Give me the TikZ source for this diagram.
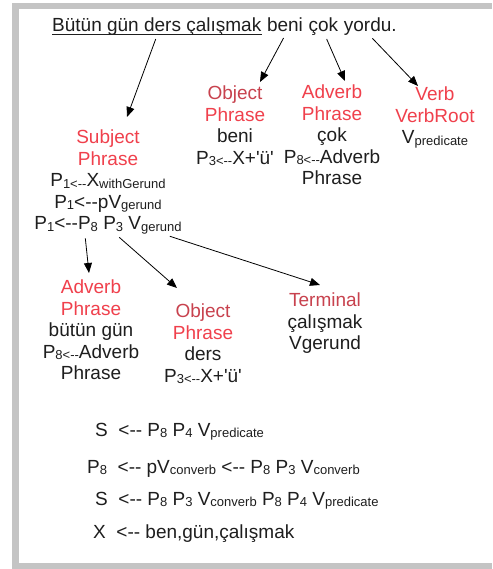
\documentclass[tikz,border=0pt]{standalone}
\usepackage{fontspec}
\newfontfamily\diagfont{Liberation Sans}
\usepackage{xcolor}
\usetikzlibrary{arrows.meta,positioning}
\definecolor{Ink}{HTML}{1E1E1E}
\definecolor{HeadRed}{HTML}{F0404C}
\definecolor{HeadDark}{HTML}{C8424E}
\definecolor{Frame}{HTML}{C4C4C4}
\newcommand{\mainsize}{\diagfont\fontsize{19}{21.5}\selectfont}
\newcommand{\lowsub}[1]{\raisebox{-1.5pt}{\fontsize{13}{13}\selectfont #1}}
\newcommand{\head}[1]{\textcolor{HeadRed}{#1}}
\newcommand{\headdk}[1]{\textcolor{HeadDark}{#1}}
\newcommand{\larr}{<-{}-}

\begin{document}
\begin{tikzpicture}[x=1pt, y=-1pt,
  word/.style={inner sep=0pt, text=Ink, font=\mainsize},
  phrase/.style={align=center, inner sep=1pt, text=Ink, font=\mainsize, anchor=north},
  rulerow/.style={inner sep=0pt, anchor=base west, text=Ink, font=\mainsize},
  link/.style={-{Triangle[length=10pt,width=8pt]}, line width=0.8pt, draw=black, shorten <=3pt}
]
  % frame
  \useasboundingbox (0,0) rectangle (492,569);
  \fill[white] (0,0) rectangle (492,569);
  \fill[Frame] (12,3) rectangle (492,569);
  \fill[white] (19,9) rectangle (492,563);

  % sentence
  \node[word, anchor=base west] (w1) at (52,32) {Bütün gün ders çalışmak};
  \node[word, base right=5.3pt of w1] (wbeni) {beni};
  \node[word, base right=5.3pt of wbeni] (wcok) {çok};
  \node[word, base right=5.3pt of wcok] (wyordu) {yordu.};
  \draw[Ink, line width=0.8pt] ([yshift=-2.5pt]w1.base west) -- ([yshift=-2.5pt]w1.base east);

  % phrases
  \node[phrase] (subj) at (108,129) {\head{Subject}\\ \head{Phrase}\\
    P\lowsub{1\larr}X\lowsub{withGerund}\\
    P\lowsub{1}\larr pV\lowsub{gerund}\\
    P\lowsub{1}\larr P\lowsub{8} P\lowsub{3} V\lowsub{gerund}};
  \node[phrase] (obj) at (235,85) {\headdk{Object}\\ \head{Phrase}\\ beni\\
    P\lowsub{3\larr}X+'ü'};
  \node[phrase] (adv) at (332,84) {\head{Adverb}\\ \head{Phrase}\\ çok\\
    P\lowsub{8\larr}Adverb\\ Phrase};
  \node[phrase] (verb) at (435,86) {\head{Verb}\\ \head{VerbRoot}\\ V\lowsub{predicate}};
  \node[phrase] (advlow) at (91,279) {\head{Adverb}\\ \head{Phrase}\\ bütün gün\\
    P\lowsub{8\larr}Adverb\\ Phrase};
  \node[phrase] (objlow) at (203,303) {\headdk{Object}\\ \head{Phrase}\\ ders\\
    P\lowsub{3\larr}X+'ü'};
  \node[phrase] (term) at (325,292) {\headdk{Terminal}\\ çalışmak\\ Vgerund};

  % rules
  \node[rulerow] (r1) at (95,436) {S \ \larr\ P\lowsub{8} P\lowsub{4} V\lowsub{predicate}};
  \node[rulerow] (r2) at (87,473) {P\lowsub{8} \ \larr\ pV\lowsub{converb} \larr\ P\lowsub{8} P\lowsub{3} V\lowsub{converb}};
  \node[rulerow] (r3) at (95,505) {S \ \larr\ P\lowsub{8} P\lowsub{3} V\lowsub{converb} P\lowsub{8} P\lowsub{4} V\lowsub{predicate}};
  \node[rulerow] (r4) at (93,538) {X \ \larr\ ben,gün,çalışmak};

  % links
  \draw[link] (w1.south) -- ([xshift=19pt,yshift=12pt]subj.north);
  \draw[link] ([yshift=-3pt]wbeni.south) -- ([xshift=25pt,yshift=3pt]obj.north);
  \draw[link] ([xshift=2pt]wcok.south) -- ([xshift=13pt,yshift=3pt]adv.north);
  \draw[link] (wyordu.south) -- ([xshift=-17pt,yshift=0pt]verb.north);
  \draw[link] ([xshift=-23pt]subj.south) -- ([xshift=-2pt,yshift=6pt]advlow.north);
  \draw[link] ([xshift=9pt]subj.south) -- ([xshift=-26pt,yshift=15pt]objlow.north);
  \draw[link] ([xshift=59pt]subj.south) -- ([xshift=-5pt,yshift=7pt]term.north);
\end{tikzpicture}
\end{document}
